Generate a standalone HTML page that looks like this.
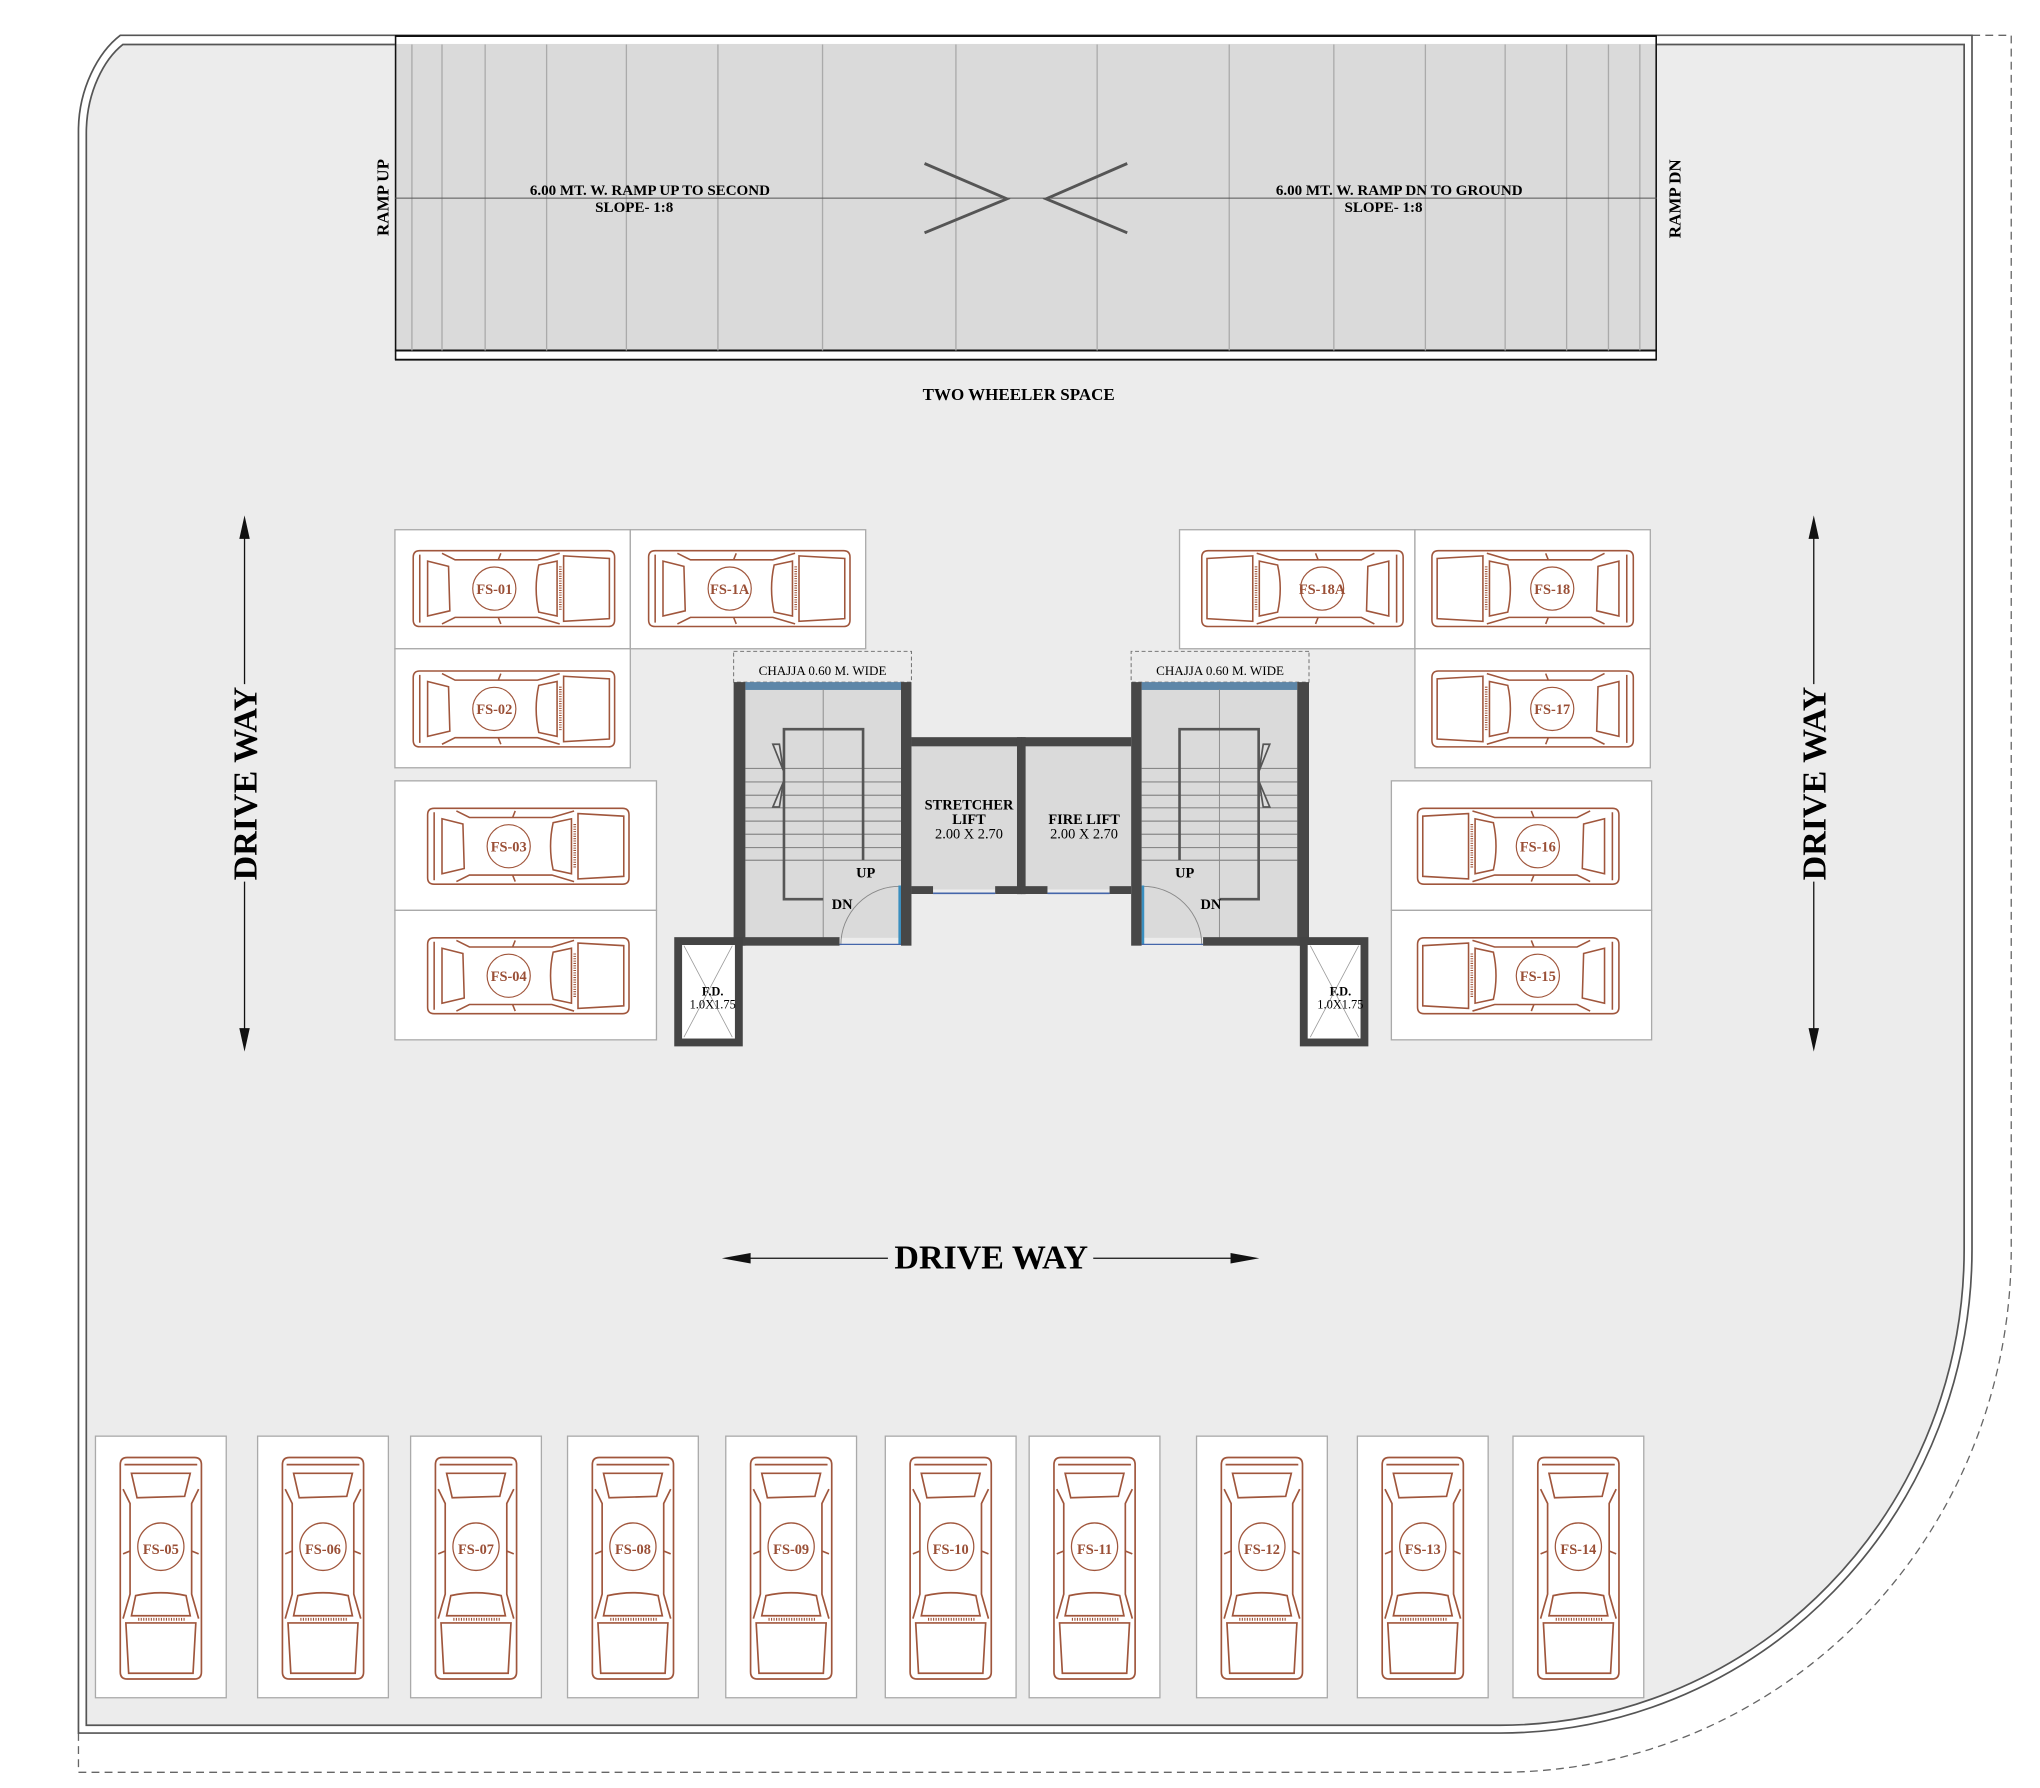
<!DOCTYPE html>
<html><head><meta charset="utf-8"><style>
html,body{margin:0;padding:0;background:#fff}
svg{display:block}
text{font-family:"Liberation Serif",serif}
.fs{font-size:11px;font-weight:bold;fill:#9a4f36;text-anchor:middle}
.box{fill:#fff;stroke:#aaa;stroke-width:1}
.car{fill:none;stroke:#a0563c;stroke-width:1.2}
</style></head><body>
<svg width="2040" height="1788" viewBox="0 0 1560 1367" preserveAspectRatio="none" xmlns="http://www.w3.org/2000/svg">
<defs>
<g id="car">
<path class="car" d="M-77,-24 Q-77,-29 -72,-29 L72,-29 Q77,-29 77,-24 L77,24 Q77,29 72,29 L-72,29 Q-77,29 -77,24 Z"/>
<path class="car" d="M-72,-26 L-72,26 M-66,-21 L-50,-17 L-49,17 L-66,21 Z M-55,-27 L-45,-22 L18,-22 L35,-27 M-55,27 L-45,22 L18,22 L35,27 M-10,-27 L-12,-22 M-10,27 L-12,22 M19,-18 Q15,0 19,18 L33,21 L33,-21 Z M38,-25 L73,-23 L73,23 L38,25 Z" stroke-width="1"/>
<line x1="35.5" y1="-17" x2="35.5" y2="17" stroke="#a0563c" stroke-width="2" stroke-dasharray="0.8,1"/>
<circle cx="-15" cy="0" r="16.5" fill="none" stroke="#a0563c" stroke-width="0.9"/>
</g>
</defs>
<rect width="1560" height="1367" fill="#fff"/>
<path d="M60,1325 L60,1355 L1147,1355 A391 400 0 0 0 1538 955 L1538,27 L1508,27" fill="none" stroke="#666" stroke-width="1" stroke-dasharray="6,4"/>
<path d="M60,100 C60,68 75,40 92,27 L1508,27 L1508,955 A361 370 0 0 1 1147 1325 L60,1325 Z" fill="#fff" stroke="#555" stroke-width="1.3"/>
<path d="M66,102 C66,70 80,45 94,34 L1502,34 L1502,955 A355 364 0 0 1 1147 1319 L66,1319 Z" fill="#ececec" stroke="#555" stroke-width="1.3"/>
<rect x="302" y="27" width="965" height="248" fill="#fff"/>
<rect x="302" y="33.6" width="965" height="234.4" fill="#dadada"/>
<line x1="302" y1="27.5" x2="1267" y2="27.5" stroke="#111" stroke-width="1.5"/>
<line x1="302" y1="268" x2="1267" y2="268" stroke="#111" stroke-width="1.5"/>
<line x1="302" y1="275" x2="1267" y2="275" stroke="#111" stroke-width="1.5"/>
<line x1="302.5" y1="27" x2="302.5" y2="275" stroke="#111" stroke-width="1.2"/>
<line x1="1266.5" y1="27" x2="1266.5" y2="275" stroke="#111" stroke-width="1.2"/>
<g stroke="#aaa" stroke-width="1">
<line x1="315" y1="34" x2="315" y2="268"/><line x1="338" y1="34" x2="338" y2="268"/><line x1="371" y1="34" x2="371" y2="268"/><line x1="418" y1="34" x2="418" y2="268"/><line x1="479" y1="34" x2="479" y2="268"/><line x1="549" y1="34" x2="549" y2="268"/><line x1="629" y1="34" x2="629" y2="268"/><line x1="731" y1="34" x2="731" y2="268"/><line x1="839" y1="34" x2="839" y2="268"/><line x1="940" y1="34" x2="940" y2="268"/><line x1="1020" y1="34" x2="1020" y2="268"/><line x1="1090" y1="34" x2="1090" y2="268"/><line x1="1151" y1="34" x2="1151" y2="268"/><line x1="1198" y1="34" x2="1198" y2="268"/><line x1="1230" y1="34" x2="1230" y2="268"/><line x1="1254" y1="34" x2="1254" y2="268"/>
</g>
<line x1="302" y1="151.5" x2="1267" y2="151.5" stroke="#555" stroke-width="0.8"/>
<path d="M707,125 L770,152 L707,178 M862,125 L800,152 L862,178" fill="none" stroke="#555" stroke-width="2.2"/>
<text x="497" y="149" font-size="11.5" font-weight="bold" text-anchor="middle">6.00 MT. W. RAMP UP TO SECOND</text>
<text x="485" y="162" font-size="11.5" font-weight="bold" text-anchor="middle">SLOPE- 1:8</text>
<text x="1070" y="149" font-size="11.5" font-weight="bold" text-anchor="middle">6.00 MT. W. RAMP DN TO GROUND</text>
<text x="1058" y="162" font-size="11.5" font-weight="bold" text-anchor="middle">SLOPE- 1:8</text>
<text transform="translate(297,151) rotate(-90)" font-size="13" font-weight="bold" text-anchor="middle">RAMP UP</text>
<text transform="translate(1285,152) rotate(-90)" font-size="13" font-weight="bold" text-anchor="middle">RAMP DN</text>
<text x="779" y="306" font-size="13" font-weight="bold" text-anchor="middle">TWO WHEELER SPACE</text>
<rect class="box" x="302" y="405" width="180" height="91"/>
<rect class="box" x="482" y="405" width="180" height="91"/>
<rect class="box" x="302" y="496" width="180" height="91"/>
<rect class="box" x="302" y="597" width="200" height="99"/>
<rect class="box" x="302" y="696" width="200" height="99"/>
<rect class="box" x="902" y="405" width="180" height="91"/>
<rect class="box" x="1082" y="405" width="180" height="91"/>
<rect class="box" x="1082" y="496" width="180" height="91"/>
<rect class="box" x="1064" y="597" width="199" height="99"/>
<rect class="box" x="1064" y="696" width="199" height="99"/>
<use href="#car" transform="translate(393,450)"/><text class="fs" x="378" y="454">FS-01</text>
<use href="#car" transform="translate(573,450)"/><text class="fs" x="558" y="454">FS-1A</text>
<use href="#car" transform="translate(393,542)"/><text class="fs" x="378" y="546">FS-02</text>
<use href="#car" transform="translate(404,647)"/><text class="fs" x="389" y="651">FS-03</text>
<use href="#car" transform="translate(404,746)"/><text class="fs" x="389" y="750">FS-04</text>
<use href="#car" transform="translate(996,450) scale(-1,1)"/><text class="fs" x="1011" y="454">FS-18A</text>
<use href="#car" transform="translate(1172,450) scale(-1,1)"/><text class="fs" x="1187" y="454">FS-18</text>
<use href="#car" transform="translate(1172,542) scale(-1,1)"/><text class="fs" x="1187" y="546">FS-17</text>
<use href="#car" transform="translate(1161,647) scale(-1,1)"/><text class="fs" x="1176" y="651">FS-16</text>
<use href="#car" transform="translate(1161,746) scale(-1,1)"/><text class="fs" x="1176" y="750">FS-15</text>
<g>
<rect class="box" x="73" y="1098" width="100" height="200"/><use href="#car" transform="translate(123,1199) rotate(90) scale(1.1,1.07)"/><text class="fs" x="123" y="1188">FS-05</text>
<rect class="box" x="197" y="1098" width="100" height="200"/><use href="#car" transform="translate(247,1199) rotate(90) scale(1.1,1.07)"/><text class="fs" x="247" y="1188">FS-06</text>
<rect class="box" x="314" y="1098" width="100" height="200"/><use href="#car" transform="translate(364,1199) rotate(90) scale(1.1,1.07)"/><text class="fs" x="364" y="1188">FS-07</text>
<rect class="box" x="434" y="1098" width="100" height="200"/><use href="#car" transform="translate(484,1199) rotate(90) scale(1.1,1.07)"/><text class="fs" x="484" y="1188">FS-08</text>
<rect class="box" x="555" y="1098" width="100" height="200"/><use href="#car" transform="translate(605,1199) rotate(90) scale(1.1,1.07)"/><text class="fs" x="605" y="1188">FS-09</text>
<rect class="box" x="677" y="1098" width="100" height="200"/><use href="#car" transform="translate(727,1199) rotate(90) scale(1.1,1.07)"/><text class="fs" x="727" y="1188">FS-10</text>
<rect class="box" x="787" y="1098" width="100" height="200"/><use href="#car" transform="translate(837,1199) rotate(90) scale(1.1,1.07)"/><text class="fs" x="837" y="1188">FS-11</text>
<rect class="box" x="915" y="1098" width="100" height="200"/><use href="#car" transform="translate(965,1199) rotate(90) scale(1.1,1.07)"/><text class="fs" x="965" y="1188">FS-12</text>
<rect class="box" x="1038" y="1098" width="100" height="200"/><use href="#car" transform="translate(1088,1199) rotate(90) scale(1.1,1.07)"/><text class="fs" x="1088" y="1188">FS-13</text>
<rect class="box" x="1157" y="1098" width="100" height="200"/><use href="#car" transform="translate(1207,1199) rotate(90) scale(1.1,1.07)"/><text class="fs" x="1207" y="1188">FS-14</text>
</g>
<g id="half">
<rect x="561" y="498" width="136" height="23.5" fill="none" stroke="#777" stroke-width="0.8" stroke-dasharray="3,2"/>
<rect x="570" y="527" width="119" height="190" fill="#dadada"/>
<rect x="570" y="521.5" width="119" height="6" fill="#5d86a8"/>
<line x1="629.5" y1="527" x2="629.5" y2="717" stroke="#888" stroke-width="0.7"/>
<g stroke="#888" stroke-width="0.9">
<line x1="570" y1="587.5" x2="689" y2="587.5"/><line x1="570" y1="597.8" x2="689" y2="597.8"/><line x1="570" y1="608" x2="689" y2="608"/><line x1="570" y1="617.6" x2="689" y2="617.6"/><line x1="570" y1="627.8" x2="689" y2="627.8"/><line x1="570" y1="637.8" x2="689" y2="637.8"/><line x1="570" y1="648" x2="689" y2="648"/><line x1="570" y1="657.7" x2="689" y2="657.7"/>
</g>
<path d="M629.5,687.5 L599.5,687.5 L599.5,557.5 L660,557.5 L660,657.5" fill="none" stroke="#555" stroke-width="2"/>
<path d="M591,569 L599,589 L596,569 Z M599,598 L591,617 L596,617 Z" fill="#ddd" stroke="#555" stroke-width="1.3"/>
<path d="M643,722.6 A45 45 0 0 1 688 677.6" fill="none" stroke="#888" stroke-width="0.7"/>
<line x1="688" y1="677" x2="688" y2="722" stroke="#3a8fc0" stroke-width="2"/>
<line x1="642" y1="722" x2="689" y2="722" stroke="#4466aa" stroke-width="1"/>
<rect x="697" y="570" width="80.7" height="110" fill="#dadada"/>
<g fill="#474747">
<rect x="561" y="521.5" width="9" height="201.5"/>
<rect x="561" y="716.5" width="81" height="6.5"/>
<rect x="689" y="521.5" width="8" height="201.5"/>
<rect x="697" y="563.6" width="84" height="7"/>
<rect x="777.7" y="563.6" width="3.5" height="120"/>
<rect x="697" y="677.5" width="16.5" height="6"/>
<rect x="761" y="677.5" width="20.5" height="6"/>
</g>
<line x1="713.5" y1="683" x2="761" y2="683" stroke="#4466aa" stroke-width="1.2"/>
<rect x="518.6" y="719.5" width="46.4" height="77.5" fill="#fff" stroke="#444" stroke-width="6"/>
<path d="M523,723 L560,793 M560,723 L523,793" stroke="#999" stroke-width="0.6"/>
</g>
<use href="#half" transform="translate(1562,0) scale(-1,1)"/>
<text x="629" y="516" font-size="10" text-anchor="middle">CHAJJA 0.60 M. WIDE</text>
<text x="933" y="516" font-size="10" text-anchor="middle">CHAJJA 0.60 M. WIDE</text>
<text x="662" y="671" font-size="11" font-weight="bold" text-anchor="middle">UP</text>
<text x="644" y="695" font-size="11" font-weight="bold" text-anchor="middle">DN</text>
<text x="906" y="671" font-size="11" font-weight="bold" text-anchor="middle">UP</text>
<text x="926" y="695" font-size="11" font-weight="bold" text-anchor="middle">DN</text>
<text x="741" y="619" font-size="11" font-weight="bold" text-anchor="middle">STRETCHER</text>
<text x="741" y="630" font-size="11" font-weight="bold" text-anchor="middle">LIFT</text>
<text x="741" y="641" font-size="11" text-anchor="middle">2.00 X 2.70</text>
<text x="829" y="630" font-size="11" font-weight="bold" text-anchor="middle">FIRE LIFT</text>
<text x="829" y="641" font-size="11" text-anchor="middle">2.00 X 2.70</text>
<text x="545" y="761" font-size="9.5" font-weight="bold" text-anchor="middle">F.D.</text>
<text x="545" y="771" font-size="9.5" text-anchor="middle">1.0X1.75</text>
<text x="1025" y="761" font-size="9.5" font-weight="bold" text-anchor="middle">F.D.</text>
<text x="1025" y="771" font-size="9.5" text-anchor="middle">1.0X1.75</text>
<g stroke="#111" stroke-width="1">
<line x1="187" y1="410" x2="187" y2="523"/><line x1="187" y1="674" x2="187" y2="790"/>
<line x1="1387" y1="410" x2="1387" y2="523"/><line x1="1387" y1="674" x2="1387" y2="790"/>
<line x1="570" y1="962" x2="679" y2="962"/><line x1="836" y1="962" x2="946" y2="962"/>
</g>
<g fill="#111">
<path d="M187,394 L183,412 L191,412 Z M187,804 L183,786 L191,786 Z"/>
<path d="M1387,394 L1383,412 L1391,412 Z M1387,804 L1383,786 L1391,786 Z"/>
<path d="M552,962 L574,958 L574,966 Z M963,962 L941,958 L941,966 Z"/>
</g>
<text transform="translate(196,599) rotate(-90)" font-size="26" font-weight="bold" text-anchor="middle">DRIVE WAY</text>
<text transform="translate(1396,599) rotate(-90)" font-size="26" font-weight="bold" text-anchor="middle">DRIVE WAY</text>
<text x="758" y="970" font-size="26" font-weight="bold" text-anchor="middle">DRIVE WAY</text>
</svg>
</body></html>
